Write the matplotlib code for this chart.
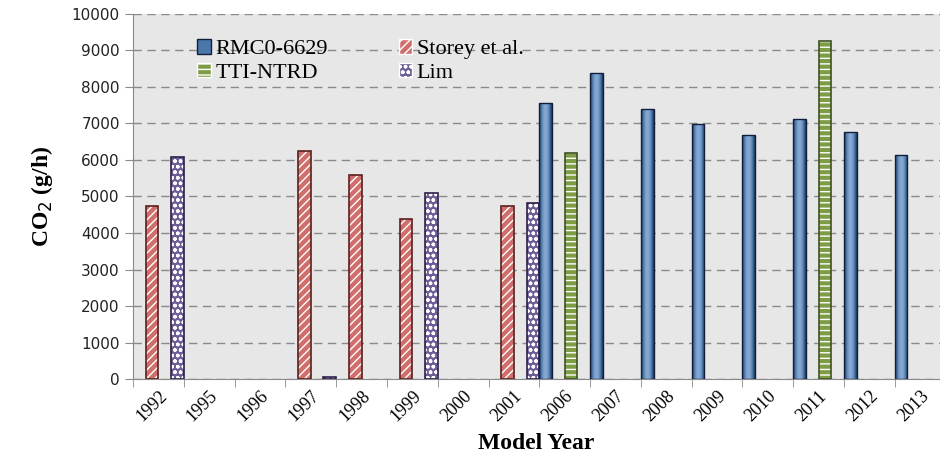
import matplotlib
matplotlib.use("Agg")
import matplotlib.pyplot as plt
from matplotlib.patches import Patch
import numpy as np

years = ['1992', '1995', '1996', '1997', '1998', '1999', '2000', '2001',
         '2006', '2007', '2008', '2009', '2010', '2011', '2012', '2013']
nan = np.nan
rmc = [nan, nan, nan, nan, nan, nan, nan, nan,
       7550, 8390, 7390, 6990, 6680, 7110, 6770, 6150]
storey = [4740, nan, nan, 6250, 5580, 4390, nan, 4740,
          nan, nan, nan, nan, nan, nan, nan, nan]
tti = [nan, nan, nan, nan, nan, nan, nan, nan,
       6200, nan, nan, nan, nan, 9250, nan, nan]
lim = [6090, nan, nan, 50, nan, 5090, nan, 4810,
       nan, nan, nan, nan, nan, nan, nan, nan]

serif = 'Liberation Serif'

fig = plt.figure(figsize=(9.4, 4.63), dpi=100)
ax = fig.add_axes([0.1415, 0.1814, 0.8585, 0.7884])
ax.set_facecolor('#e7e7e7')

x = np.arange(len(years))
w = 0.25
x_max = 15.39

# blue cylinder-ish bars (horizontal gradient)
grad = np.linspace(0, 1, 64)
shade = np.sin(grad * np.pi) ** 0.8
blue_cmap = matplotlib.colors.LinearSegmentedColormap.from_list(
    'b', ['#1c3557', '#3d6699', '#86a9d4'])
for xi, v in zip(x, rmc):
    if np.isnan(v):
        continue
    left = xi - 0.375 - w / 2
    im = ax.imshow(shade[np.newaxis, :], cmap=blue_cmap, aspect='auto',
                   extent=[left, left + w, 0, v], zorder=3,
                   interpolation='bilinear')
    r = plt.Rectangle((left, 0), w, v, fill=False, edgecolor='#10203a',
                      linewidth=1, zorder=4)
    ax.add_patch(r)
    im.set_clip_path(r)
ax.set_xlim(-0.5, x_max)
ax.set_ylim(0, 10000)

# hatched series: fill + white hatch, then dark outline
styles = [
    (storey, -0.125, '#cf6f6c', 'white', '////', '#5b1f1f'),
    (tti, 0.125, '#7d9c45', 'white', '---', '#3d5220'),
    (lim, 0.375, '#6e5e98', 'white', 'ooo', '#2c2148'),
]
for vals, off, fc, hc, hatch, ec in styles:
    v = np.array(vals, dtype=float)
    keep = ~np.isnan(v)
    ax.bar(x[keep] + off, v[keep], w, color=fc, edgecolor=hc, hatch=hatch,
           linewidth=0, zorder=3)
    ax.bar(x[keep] + off, v[keep], w, fill=False, edgecolor=ec,
           linewidth=1.2, zorder=4)

ax.set_yticks(np.arange(0, 10001, 1000))
ax.yaxis.grid(True, linestyle=(0, (6, 4)), color='#8a8a8a', linewidth=1)
ax.set_axisbelow(True)
ax.set_xticks(x)
ax.set_xticklabels(years, rotation=45, ha='right', rotation_mode='anchor',
                   fontsize=13, family=serif)
ax.set_xticks(np.arange(-0.5, 15.5, 1), minor=True)
ax.tick_params(axis='x', which='major', length=0, pad=6)
ax.tick_params(axis='x', which='minor', length=6, color='#8a8a8a')
ax.tick_params(axis='y', length=6, color='#8a8a8a', labelsize=11,
               labelcolor='#222222')
for s in ['top', 'right']:
    ax.spines[s].set_visible(False)
ax.spines['left'].set_color('#8a8a8a')
ax.spines['bottom'].set_color('#8a8a8a')

ax.set_ylabel('CO$_2$ (g/h)', family=serif, fontweight='bold', fontsize=17,
              labelpad=12)
ax.set_xlabel('Model Year', family=serif, fontweight='bold', fontsize=17,
              labelpad=6)

rmc_h = Patch(facecolor='#4a76aa', edgecolor='#10203a')
storey_h = Patch(facecolor='#cf6f6c', edgecolor='white', hatch='////')
tti_h = Patch(facecolor='#7d9c45', edgecolor='white', hatch='---')
lim_h = Patch(facecolor='#6e5e98', edgecolor='white', hatch='ooo')
# column-major order so rows read RMC / Storey, TTI / Lim
ax.legend([rmc_h, tti_h, storey_h, lim_h],
          ['RMC0-6629', 'TTI-NTRD', 'Storey et al.', 'Lim'],
          ncol=2, loc='upper left', bbox_to_anchor=(0.055, 0.985),
          frameon=False, prop={'family': serif, 'size': 16},
          handlelength=0.6, handleheight=0.6, handletextpad=0.2,
          columnspacing=3.2, labelspacing=0.15)

fig.savefig('out.png', dpi=100)
